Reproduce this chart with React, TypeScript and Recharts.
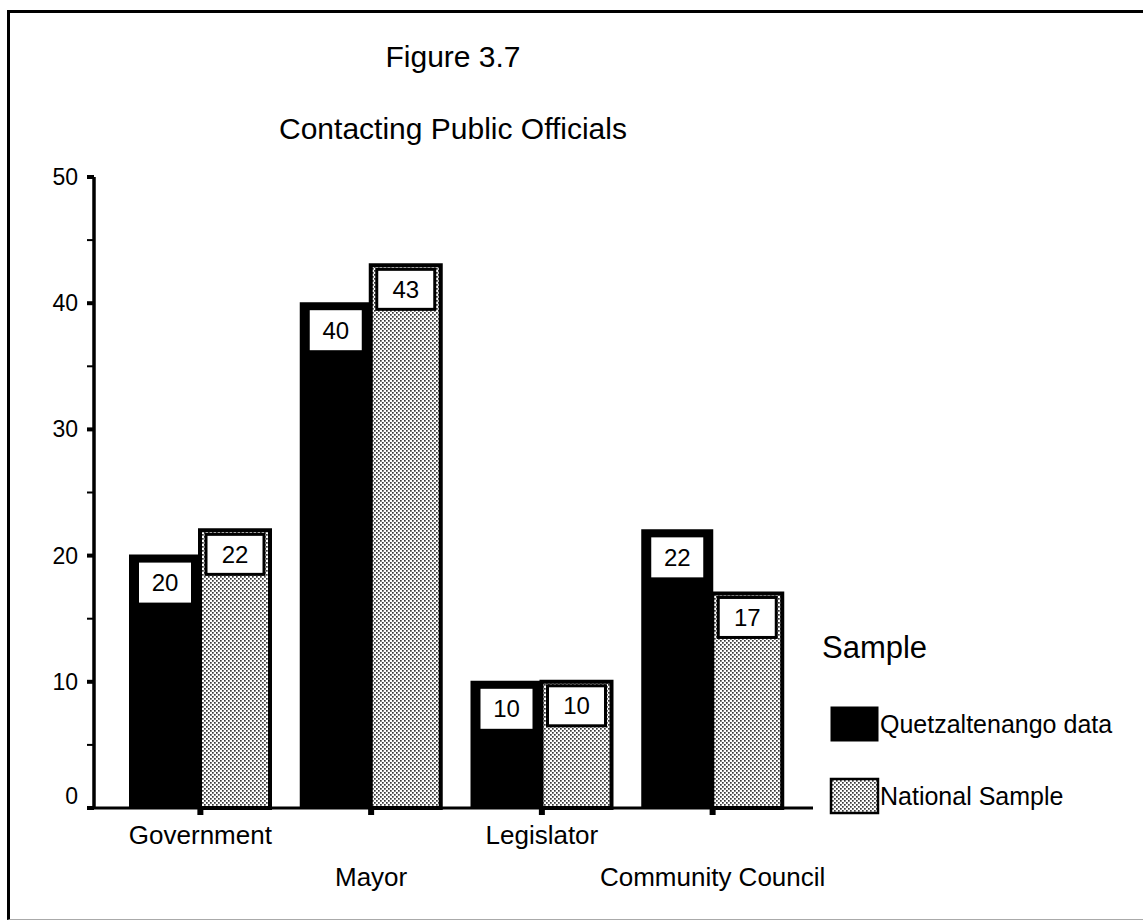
import React from 'react'
import {Bar, BarChart, LabelList, Legend, XAxis, YAxis} from 'recharts'

// values
const categories = ['Government', 'Mayor', 'Legislator', 'Community Council']
const quetzaltenango = [20, 40, 10, 22]
const national = [22, 43, 10, 17]
const yTicks = [0, 5, 10, 15, 20, 25, 30, 35, 40, 45, 50]

const data = categories.map((name, i) => ({
  name,
  quetzaltenango: quetzaltenango[i],
  national: national[i],
}))

const FONT = '"Liberation Sans", Arial, Helvetica, sans-serif'

const YTick = (props: any) => {
  const {x, y, payload} = props
  const v = payload.value
  const major = v % 10 === 0
  return (
    <g>
      <line x1={x - 7} x2={x} y1={y} y2={y} stroke="#000" strokeWidth={major ? 4 : 2} />
      {major && (
        <text
          x={x - 16}
          y={y + (v === 0 ? -12 : 0)}
          textAnchor="end"
          dominantBaseline="central"
          fontSize={23}
          fontFamily={FONT}
          fill="#000"
        >
          {v}
        </text>
      )}
    </g>
  )
}

const XTick = (props: any) => {
  const {x, y, payload, index} = props
  return (
    <g>
      <rect x={x - 3} y={y} width={6} height={7} fill="#000" />
      <text
        x={x}
        y={y + (index % 2 === 0 ? 27 : 69)}
        textAnchor="middle"
        dominantBaseline="central"
        fontSize={26}
        fontFamily={FONT}
        fill="#000"
      >
        {payload.value}
      </text>
    </g>
  )
}

// white value box sitting inside the top of a black bar
const BlackLabel = (props: any) => {
  const {x, y, width, value} = props
  const cx = x + width / 2
  return (
    <g>
      <rect x={cx - 26} y={y + 7} width={52} height={40} fill="#fff" />
      <text
        x={cx}
        y={y + 27}
        textAnchor="middle"
        dominantBaseline="central"
        fontSize={24}
        fontFamily={FONT}
        fill="#000"
      >
        {value}
      </text>
    </g>
  )
}

// boxed value inside the top of a stippled bar
const StippleLabel = (props: any) => {
  const {x, y, width, value} = props
  return (
    <g>
      <rect x={x + 6} y={y + 4} width={width - 12} height={40} fill="#fff" stroke="#000" strokeWidth={3} />
      <text
        x={x + width / 2}
        y={y + 24}
        textAnchor="middle"
        dominantBaseline="central"
        fontSize={24}
        fontFamily={FONT}
        fill="#000"
      >
        {value}
      </text>
    </g>
  )
}

const SampleLegend = (props: any) => {
  const {payload} = props
  const items = payload || []
  return (
    <svg width={321} height={220} style={{fontFamily: FONT}}>
      <text x={0} y={48} fontSize={31} fill="#000">
        Sample
      </text>
      {items.map((entry: any, i: number) => {
        const stipple = entry.dataKey === 'national'
        const top = stipple ? 169 : 97
        return (
          <g key={i}>
            <rect
              x={9}
              y={top}
              width={47}
              height={34}
              fill={stipple ? 'url(#stipple)' : '#000'}
              stroke="#000"
              strokeWidth={stipple ? 2.5 : 1}
            />
            <text x={58} y={top + 17} fontSize={25} dominantBaseline="central" fill="#000">
              {entry.value}
            </text>
          </g>
        )
      })}
    </svg>
  )
}

const App = () => {
  return (
    <div style={{position: 'absolute', left: 0, top: 0, width: 1143, height: 922, background: '#fff', fontFamily: FONT}}>
      <svg width={0} height={0} style={{position: 'absolute'}}>
        <defs>
          <pattern id="stipple" width={4} height={4} patternUnits="userSpaceOnUse">
            <rect width={4} height={4} fill="#fff" />
            <rect x={0} y={0} width={1.7} height={1.7} fill="#3a3a3a" />
            <rect x={2} y={2} width={1.7} height={1.7} fill="#3a3a3a" />
          </pattern>
        </defs>
      </svg>

      {/* scanned page frame */}
      <div
        style={{
          position: 'absolute',
          left: 7,
          top: 10,
          width: 1136,
          height: 910,
          boxSizing: 'border-box',
          borderTop: '3px solid #000',
          borderLeft: '3px solid #000',
          borderBottom: '1px solid #aaa',
        }}
      />

      <div style={{position: 'absolute', left: 253, width: 400, top: 42, textAlign: 'center', fontSize: 30, lineHeight: '30px', color: '#000'}}>
        Figure 3.7
      </div>
      <div style={{position: 'absolute', left: 153, width: 600, top: 114, textAlign: 'center', fontSize: 30, lineHeight: '30px', color: '#000'}}>
        Contacting Public Officials
      </div>

      <div style={{position: 'absolute', left: 0, top: 0}}>
        <BarChart
          width={1143}
          height={922}
          data={data}
          margin={{top: 177, right: 330, bottom: 14, left: 0}}
          barCategoryGap={15}
          barGap={0}
        >
          <XAxis
            dataKey="name"
            height={100}
            padding={{left: 21, right: 15}}
            axisLine={{stroke: '#000', strokeWidth: 3}}
            tickLine={false}
            tickSize={0}
            tickMargin={0}
            interval={0}
            tick={<XTick />}
          />
          <YAxis
            width={94}
            domain={[0, 50]}
            ticks={yTicks}
            interval={0}
            axisLine={{stroke: '#000', strokeWidth: 3.5}}
            tickLine={false}
            tickSize={0}
            tickMargin={0}
            tick={<YTick />}
          />
          <Legend
            layout="vertical"
            align="center"
            verticalAlign="middle"
            wrapperStyle={{left: 822, top: 610, width: 321, height: 220}}
            content={<SampleLegend />}
          />
          <Bar
            dataKey="quetzaltenango"
            name="Quetzaltenango data"
            fill="#000"
            stroke="#000"
            strokeWidth={2}
            isAnimationActive={false}
          >
            <LabelList dataKey="quetzaltenango" content={<BlackLabel />} />
          </Bar>
          <Bar
            dataKey="national"
            name="National Sample"
            fill="url(#stipple)"
            stroke="#000"
            strokeWidth={4}
            isAnimationActive={false}
          >
            <LabelList dataKey="national" content={<StippleLabel />} />
          </Bar>
        </BarChart>
      </div>
    </div>
  )
}

export default App
